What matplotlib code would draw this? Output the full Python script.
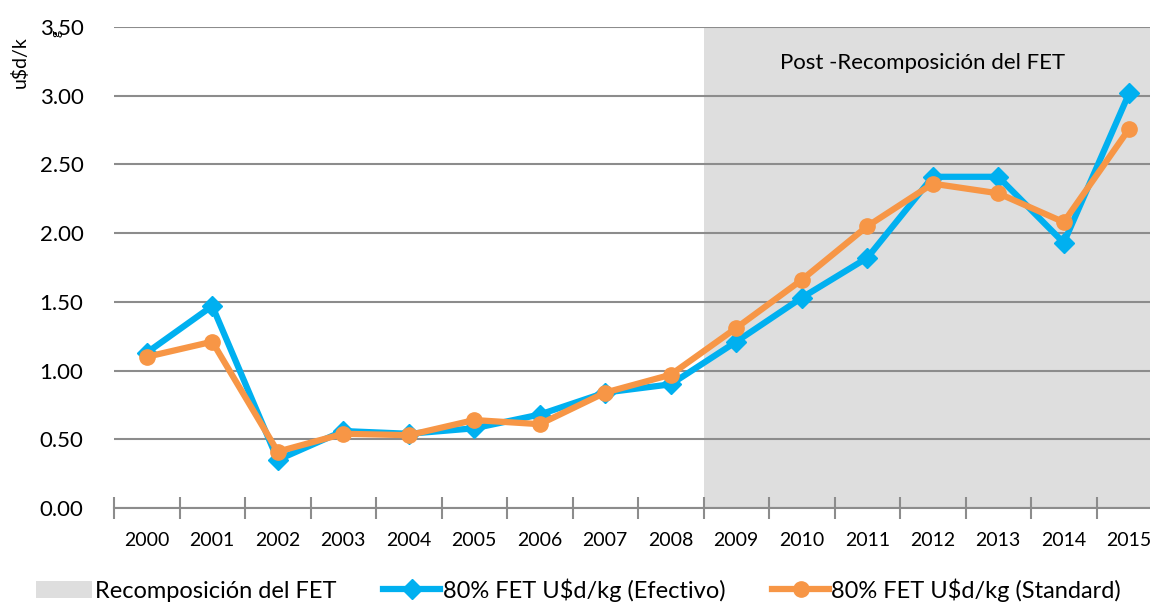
import matplotlib
matplotlib.use("Agg")
import matplotlib.pyplot as plt
from matplotlib.patches import Patch
from matplotlib.lines import Line2D

plt.rcParams["font.family"] = ["Lato", "DejaVu Sans"]

years = ["2000", "2001", "2002", "2003", "2004", "2005", "2006", "2007",
         "2008", "2009", "2010", "2011", "2012", "2013", "2014", "2015"]
efectivo = [1.13, 1.47, 0.35, 0.56, 0.54, 0.58, 0.68, 0.84,
            0.90, 1.21, 1.53, 1.82, 2.41, 2.41, 1.93, 3.02]
standard = [1.10, 1.21, 0.41, 0.54, 0.53, 0.64, 0.61, 0.84,
            0.97, 1.31, 1.66, 2.05, 2.36, 2.29, 2.08, 2.76]
post_start = 8.5  # between 2008 and 2009

BLUE = "#00B0F0"
ORANGE = "#F79646"
SHADE = "#DEDEDE"
GRID = "#8C8C8C"

fig = plt.figure(figsize=(11.5, 6.03), dpi=100)
ax = fig.add_axes([114 / 1150, 1 - 508 / 603, 1048 / 1150, 481 / 603])

x = range(len(years))
ax.axvspan(post_start, len(years) - 0.5, color=SHADE, zorder=0, lw=0)
ax.plot(x, efectivo, color=BLUE, lw=4.5, marker="D", ms=10, zorder=3,
        solid_joinstyle="miter")
ax.plot(x, standard, color=ORANGE, lw=4.5, marker="o", ms=11, zorder=4)

ax.set_xlim(-0.5, len(years) - 0.5)
ax.set_ylim(0, 3.5)
ax.set_yticks([0, 0.5, 1.0, 1.5, 2.0, 2.5, 3.0, 3.5])
ax.set_yticklabels([f"{v:.2f}" for v in ax.get_yticks()], fontsize=16)
ax.set_xticks(list(x))
ax.set_xticklabels(years, fontsize=14)
ax.set_xticks([i - 0.5 for i in range(len(years) + 1)], minor=True)

ax.set_axisbelow(True)
ax.grid(axis="y", color=GRID, lw=1.5)
ax.tick_params(axis="y", length=0, pad=22)
ax.tick_params(axis="x", which="major", length=0, pad=17)
ax.tick_params(axis="x", which="minor", length=16, width=1.5, color=GRID,
               direction="inout")
for side in ["top", "right", "left"]:
    ax.spines[side].set_visible(False)
ax.spines["bottom"].set_color(GRID)
ax.spines["bottom"].set_linewidth(1.5)

ax.text(11.85, 3.24, "Post -Recomposición del FET", ha="center",
        va="center", fontsize=16)

fig.text(20 / 1150, 1 - 62 / 603, "u$d/k", rotation=90, ha="center",
         va="center", fontsize=14)
fig.text(57 / 1150, 1 - 33 / 603, "g", rotation=90, ha="center",
         va="center", fontsize=10)

handles = [
    Patch(facecolor=SHADE, edgecolor="none"),
    Line2D([], [], color=BLUE, lw=4.5, marker="D", ms=10),
    Line2D([], [], color=ORANGE, lw=4.5, marker="o", ms=11),
]
labels = ["Recomposición del FET", "80% FET U$d/kg (Efectivo)",
          "80% FET U$d/kg (Standard)"]
fig.legend(handles, labels, loc="center", bbox_to_anchor=(0.503, 1 - 590 / 603),
           ncol=3, frameon=False, fontsize=17, handlelength=2.4,
           handletextpad=0.1, columnspacing=2.0, handleheight=0.7)

fig.savefig("out.png", dpi=100)
